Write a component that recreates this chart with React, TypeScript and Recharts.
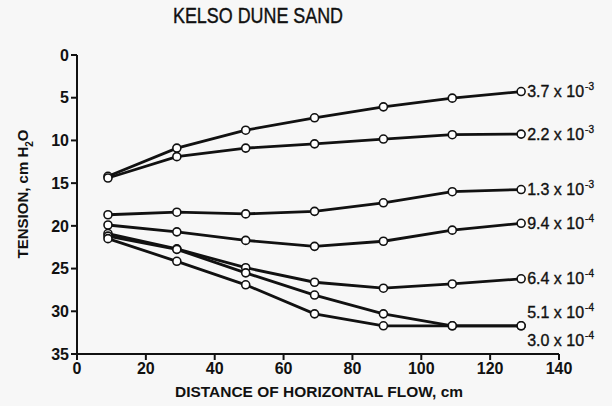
import React from 'react';
import { LineChart, Line, XAxis, YAxis, LabelList } from 'recharts';

const distances = [9, 29, 49, 69, 89, 109, 129];
const k37 = [14.2, 10.9, 8.8, 7.35, 6.07, 5.05, 4.28];
const k22 = [14.4, 11.9, 10.9, 10.4, 9.84, 9.33, 9.26];
const k13 = [18.7, 18.4, 18.6, 18.3, 17.3, 16.0, 15.75];
const k94 = [19.9, 20.7, 21.7, 22.4, 21.8, 20.5, 19.7];
const k64 = [20.9, 22.7, 24.9, 26.6, 27.3, 26.8, 26.2];
const k51 = [21.2, 22.75, 25.5, 28.1, 30.3, 31.7, 31.7];
const k30 = [21.5, 24.15, 26.9, 30.3, 31.7, 31.7, 31.7];

const seriesKeys = ['k37', 'k22', 'k13', 'k94', 'k64', 'k51', 'k30'];
const mantissas = ['3.7', '2.2', '1.3', '9.4', '6.4', '5.1', '3.0'];
const exponents = ['-3', '-3', '-3', '-4', '-4', '-4', '-4'];
const xTicks = [0, 20, 40, 60, 80, 100, 120, 140];
const yTicks = [0, 5, 10, 15, 20, 25, 30, 35];

// label nudges so the two bottom labels don't sit on the same point
const labelDy = [0, 0, 0, 0, 0, -13, 15];

const values = [k37, k22, k13, k94, k64, k51, k30];
const data = distances.map((d, i) => {
  const row: Record<string, number> = { x: d };
  seriesKeys.forEach((k, s) => { row[k] = values[s][i]; });
  return row;
});

const font = '"Liberation Sans", Arial, Helvetica, sans-serif';

const endLabel = (s: number) => (props: any) => {
  const { x, y, index } = props;
  if (index !== distances.length - 1) return null;
  return (
    <text x={x + 6} y={y + labelDy[s]} dy={5.5} fontFamily={font} fontSize={16} fill="#111"
      stroke="#111" strokeWidth={0.35}>
      {mantissas[s]} x 10
      <tspan dx={1} dy={-7} fontSize={10}>{exponents[s]}</tspan>
    </text>
  );
};

export default function App() {
  const tick = { fill: '#111', fontSize: 16, fontWeight: 700, fontFamily: font };
  return (
    <div style={{ position: 'absolute', left: 0, top: 0, width: 612, height: 406, background: '#f7f7f7' }}>
      <LineChart width={612} height={406} data={data} margin={{ top: 55, right: 53, bottom: 0, left: 0 }}>
        <XAxis
          dataKey="x"
          type="number"
          domain={[0, 140]}
          ticks={xTicks}
          tick={tick}
          tickSize={6}
          tickMargin={3}
          height={52}
          stroke="#111"
          strokeWidth={2}
        />
        <YAxis
          type="number"
          domain={[0, 35]}
          ticks={yTicks}
          reversed
          tick={tick}
          tickSize={6}
          tickMargin={2}
          width={77}
          stroke="#111"
          strokeWidth={2}
        />
        {seriesKeys.map((k, s) => (
          <Line
            key={k}
            dataKey={k}
            type="linear"
            stroke="#111"
            strokeWidth={2.8}
            dot={{ r: 4, fill: '#fff', stroke: '#111', strokeWidth: 1.6 }}
            isAnimationActive={false}
          >
            <LabelList dataKey={k} content={endLabel(s)} />
          </Line>
        ))}
      </LineChart>
      <svg width={612} height={406} style={{ position: 'absolute', left: 0, top: 0, pointerEvents: 'none' }}>
        <text x={258} y={23} textAnchor="middle" fontFamily={font} fontSize={22} fill="#111"
          stroke="#111" strokeWidth={0.4}
          textLength={170} lengthAdjust="spacingAndGlyphs">KELSO DUNE SAND</text>
        <text x={319} y={397} textAnchor="middle" fontFamily={font} fontSize={15} fontWeight={700} fill="#111"
          textLength={288} lengthAdjust="spacingAndGlyphs">DISTANCE OF HORIZONTAL FLOW, cm</text>
        <text transform="translate(28,194) rotate(-90)" textAnchor="middle" fontFamily={font} fontSize={15}
          fontWeight={700} fill="#111">
          TENSION, cm H<tspan dy={5} fontSize={10}>2</tspan><tspan dy={-5}>O</tspan>
        </text>
      </svg>
    </div>
  );
}
